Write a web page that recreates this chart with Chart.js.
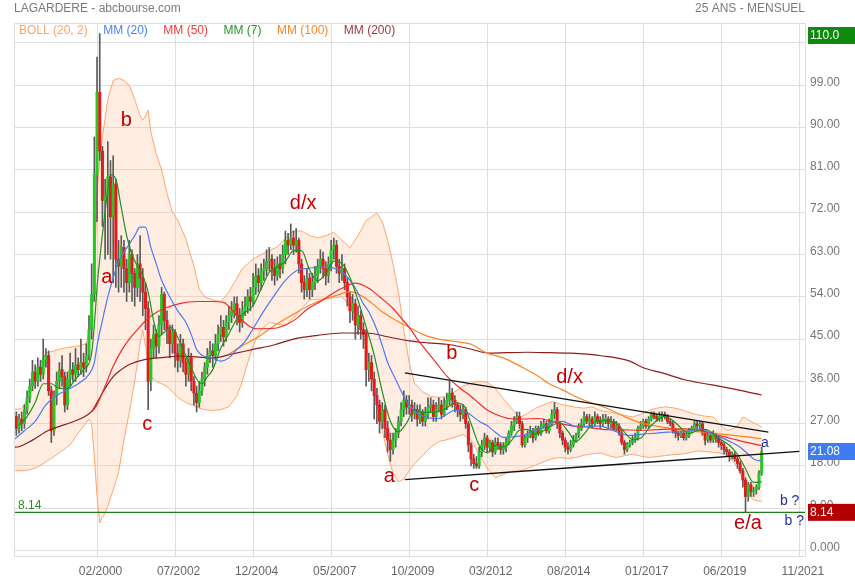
<!DOCTYPE html>
<html lang="fr">
<head>
<meta charset="UTF-8">
<title>LAGARDERE - abcbourse.com</title>
<script src="https://cdn.jsdelivr.net/npm/chart.js@4.4.1/dist/chart.umd.min.js"></script>
<style>
    body { margin: 0; background: #fff; }
</style>
</head>
<body>
<canvas id="graphique" width="855" height="580"></canvas>

<script>
    // mois comptés depuis 02/2000 (= 0), un chandelier par mois
    const premierMois = -30;
    const ouvertureInitiale = 28.5;

    const cloture = [
        26, 28, 27, 30, 32.5, 35, 38, 36, 39, 37.5,            // -30
        40.5, 41.5, 34, 25.5, 33, 36, 38.5, 37, 31, 36.5,      // -20
        38.5, 37.5, 39.5, 38.5, 40, 39, 41.5, 47, 54.5, 80,    // -10
        97.5, 85, 74.5, 75.5, 79.5, 71, 78, 62, 60.5, 64.5,    // 0
        60, 57, 63, 59, 56, 61, 58, 55, 51.5, 36,              // 10
        43, 46, 43.5, 48, 54.5, 49, 47, 44, 46.5, 42,          // 20
        40.5, 44, 40, 37.5, 41, 36, 33.5, 31.5, 34, 36.5,      // 30
        39, 41.5, 42.5, 41.5, 44, 46, 47.5, 45.5, 48.5, 50,    // 40
        51, 52.5, 50, 48.5, 51, 52, 54, 53, 56, 58.5,          // 50
        57, 59.5, 60, 61.5, 62, 60, 58.5, 61, 60, 63,          // 60
        66, 65, 66.5, 65, 66, 61, 57, 55.5, 58, 55.5,          // 70
        57, 58.5, 60.5, 62, 60, 58.5, 61, 64, 65, 60.5,        // 80
        59, 60, 57, 54, 51, 52.5, 48, 50, 47, 46,              // 90
        38.5, 40, 36.5, 33, 31, 27.5, 30, 26, 23.5, 21.5,      // 100
        23.5, 25, 27.5, 30, 32, 30.5, 31, 29, 30, 28,          // 110
        29.5, 27.5, 29, 30.5, 31, 28.5, 30, 31, 29, 31,        // 120
        32, 33.5, 32, 31, 30, 29, 30, 27, 22.5, 19.5,          // 130
        18.5, 18, 21, 22.5, 24, 22, 23, 21, 23, 22.5,          // 140
        21.5, 22, 23, 25, 26.5, 27.5, 28.5, 27, 22.5, 24,      // 150
        24.5, 25.5, 24, 26, 25, 26.5, 27, 25.5, 27, 29,        // 160
        30, 27, 25, 23.5, 22, 21.5, 22.5, 23.5, 24.5, 26,      // 170
        27, 28.5, 27.5, 28, 27, 28.5, 27.5, 27, 28, 28,        // 180
        27, 27.5, 26, 26.5, 25, 23, 21.5, 22.5, 23, 23.5,      // 190
        24, 26, 26.5, 27.5, 26.5, 28, 29, 28.5, 28, 28.5,      // 200
        29, 28.5, 27.5, 27, 25.5, 25, 24.5, 25, 24, 24.5,      // 210
        25.5, 26, 27, 26.5, 27, 25, 23.5, 24.5, 23.5, 24.5,    // 220
        24, 23, 22.5, 21.5, 21, 20, 20.5, 19.5, 18.5, 17,      // 230
        15, 11.5, 14, 12.5, 12.8, 13.5, 16.5, 21.08            // 240
    ];

    const plusHaut = [
        29.5, 29, 29.5, 31, 34, 36.5, 40.5, 39.5, 41, 40.5,
        45, 43, 42.5, 35, 34, 38, 40, 41.5, 38, 38,
        42, 40, 43, 41, 45, 42, 44, 50, 61, 88,
        105, 110, 86, 79, 87, 83, 84, 79, 66, 67,
        66, 62, 66, 64, 60, 63, 67, 60, 57, 53,
        45, 48, 47, 50, 56, 55, 51, 48, 48, 47,
        44, 46, 45, 41, 43, 42, 37, 35, 36, 38,
        40, 43, 44.5, 44, 46, 48, 50, 49, 50, 52,
        53, 54, 54, 51.5, 53, 54, 55.5, 56, 59, 61,
        60, 61, 62, 64, 64.5, 63, 62, 62.5, 63, 65,
        68, 67.5, 69.5, 68, 68.5, 66.5, 62, 58.5, 60, 59,
        59, 60.5, 62, 64, 63.5, 61.5, 62.5, 66, 66.5, 66,
        62, 63, 61, 58, 55, 54.5, 53.5, 52, 51, 48.5,
        47, 42, 41.5, 38, 34.5, 32, 31.5, 31, 27.5, 25,
        25, 26, 28.5, 31.5, 34, 33, 33, 32, 31.5, 31,
        31, 30, 30.5, 32.5, 32.5, 32, 31.5, 32.5, 32, 32.5,
        33.5, 36, 34.5, 33, 31.5, 31, 31, 30.5, 27.5, 23,
        20.5, 20, 22, 23.5, 25, 24.5, 23.5, 23.5, 24, 24,
        23, 23, 24, 25.5, 27.5, 28.5, 29.5, 29.5, 27.5, 24.5,
        25.5, 26.5, 26, 26.5, 26.5, 27.5, 28, 27.5, 28, 30,
        31.5, 30.5, 27.5, 25.5, 24, 23, 23.5, 24.5, 25, 27,
        28, 29.5, 29, 29, 28.5, 29.5, 29, 28.5, 29, 29,
        28.5, 28.5, 28, 27.5, 27, 25.5, 23.5, 23, 23.5, 24.5,
        25, 26.5, 27.5, 28, 28, 28.5, 29.5, 29.5, 29, 29.5,
        29.5, 29.5, 29, 28, 27.5, 26, 25.5, 25.5, 25.5, 25,
        26, 26.5, 27.5, 27.5, 27.5, 27.5, 25.5, 25, 25, 25.5,
        25, 24.5, 23.5, 23, 22, 21.5, 21, 21, 20, 19,
        17.5, 15.5, 14.5, 14.5, 13.5, 14, 17, 22
    ];

    const plusBas = [
        24.5, 25, 25.5, 26, 29, 31.5, 34, 34.5, 35, 36,
        36.5, 39, 33, 23, 24.5, 31, 34.5, 35, 29.5, 30,
        35, 36, 36, 37, 37.5, 37, 38, 40.5, 45, 53,
        70, 83, 69, 62, 63, 62, 57, 56, 55, 56,
        55, 53, 55, 53, 52, 54, 53, 50, 47, 30,
        34, 41, 41, 42, 46, 47, 44, 41, 42, 39,
        38, 39, 38, 35, 36, 34, 31, 29.5, 30.5, 33,
        35, 37.5, 40, 39, 40.5, 42.5, 44.5, 43.5, 44.5, 47,
        48.5, 49.5, 48, 46.5, 47.5, 50, 50.5, 51, 52, 54.5,
        55, 55.5, 57.5, 58.5, 59.5, 57.5, 56.5, 57.5, 58, 59,
        61, 63, 64, 63, 63.5, 59, 55, 53.5, 54, 53.5,
        54, 55.5, 57, 59, 58, 56.5, 57, 59.5, 62, 59,
        57, 57.5, 55.5, 52, 48.5, 49, 45, 46, 45, 43,
        35, 36, 34, 28, 27, 25, 26, 24, 21, 19,
        20.5, 22, 24, 26.5, 28.5, 29, 29, 27.5, 28, 26.5,
        27, 26.5, 26.5, 28, 29.5, 27.5, 27.5, 29.5, 28, 28.5,
        30, 31, 30.5, 29.5, 28.5, 27.5, 28, 26, 21, 18,
        17.5, 17.5, 17.5, 20, 21.5, 21, 21, 20, 20.5, 21.5,
        20.5, 20.5, 21, 22.5, 24.5, 25.5, 27, 26, 22, 22,
        23, 24, 23, 23.5, 24.5, 24.5, 26, 25, 25, 26.5,
        28, 26, 24, 22.5, 21, 20.5, 21, 22, 23, 24,
        25.5, 26.5, 27, 26.5, 26, 26.5, 27, 26, 26.5, 27,
        26, 26, 25.5, 25.5, 24.5, 22.5, 20.5, 21, 22, 22.5,
        23, 23.5, 25.5, 26, 26, 26, 27.5, 28, 27.5, 27.5,
        27.5, 28, 27, 26.5, 25, 24, 23.5, 24, 23.5, 23.5,
        24, 25, 25.5, 25.5, 26, 24.5, 22.5, 23, 23, 23,
        23, 22, 21.5, 20.5, 20, 19, 19.5, 19, 17.5, 16.5,
        13.5, 8.14, 10.5, 11.5, 11.5, 12, 13, 16
    ];

    // bandes de Bollinger (20, 2) : mois, borne haute, borne basse
    const bollMois = [
        -31, -28, -25, -22, -19, -16, -13, -10, -7, -4,
        -3, -2, -1, 0, 1, 2, 3, 4, 6, 8,
        10, 12, 14, 16, 17, 18, 19, 20, 22, 24,
        26, 28, 30, 33, 36, 38, 40, 43, 46, 49,
        52, 54, 56, 58, 61, 64, 67, 70, 73, 76,
        79, 82, 85, 88, 91, 94, 97, 100, 102, 104,
        106, 108, 110, 112, 114, 116, 118, 121, 124, 127,
        130, 133, 136, 139, 142, 145, 148, 151, 154, 157,
        160, 163, 166, 169, 172, 175, 178, 181, 184, 187,
        190, 193, 196, 199, 202, 205, 208, 211, 214, 217,
        220, 223, 226, 229, 232, 234, 236, 238, 240, 241,
        242, 244, 246, 247
    ];
    const bollHaut = [
        30, 30.2, 33, 38.5, 42, 42.5, 43, 43.3, 43.5, 44,
        46.5, 48, 58, 76, 83, 88, 92, 96, 100, 100.5,
        100, 99, 96, 92.5, 91.6, 92.5, 93.7, 89, 84.5, 81,
        76, 72, 70.3, 66.3, 60.5, 55.6, 54, 53.3, 53, 55,
        58, 60, 61, 62, 63, 63.8, 64.6, 66.5, 68, 68,
        67, 66.5, 67, 67.7, 66, 64.4, 67, 70.2, 71, 71.8,
        70, 66, 61, 55, 47, 40, 35.6, 33.8, 32.8, 32.6,
        32.8, 33.8, 35, 35.6, 36, 35.8, 34.5, 32.3, 30.3, 28.3,
        29.2, 30.3, 31, 31.7, 31.2, 30.8, 30.5, 30.3, 30.6, 29.8,
        29.5, 29.2, 28.8, 28.4, 29, 29.8, 30.3, 30.6, 30.4, 30,
        29.4, 28.9, 28.6, 28.4, 26.5, 25.6, 25.8, 26.6, 28.4, 28.2,
        27.8, 27.2, 26.6, 26.3
    ];
    const bollBas = [
        17, 17, 17.2, 17.8, 18.9, 20, 21.2, 22.5, 25, 27.2,
        28, 27, 20, 11.5, 5.9, 7, 8, 9.5, 12.9, 16.7,
        23.5, 29.5, 36, 44, 46.9, 43.5, 39.8, 37, 36, 35.5,
        34.9, 33.8, 32.6, 31.5, 30.8, 30.3, 30, 29.8, 30, 30.6,
        33, 36, 40, 43.6, 47, 48.5, 48.2, 47.9, 49.5, 51.5,
        53.3, 53.5, 53.6, 53.8, 54, 52, 49, 43.6, 38, 31.5,
        25.5, 20.5, 16.5, 14.6, 15.2, 17, 18.5, 20.2, 22, 23.2,
        23.6, 24.1, 24.7, 23.5, 20.5, 17.5, 15.5, 16.2, 16.9, 16.9,
        17.5, 18.2, 18.9, 19.5, 19.8, 19.6, 19.8, 20.3, 20.6, 20.8,
        20.2, 19.8, 20.2, 20.5, 20.1, 19.8, 20, 20.2, 20.4, 20.5,
        20.8, 21.2, 21.1, 20.9, 20.7, 20.5, 19.2, 17.8, 15, 12.6,
        11.8, 10.8, 10.5, 10.5
    ];

    // moyennes mobiles : [mois, valeur]
    const mm7 = [[-29,26.6],[-26,28.5],[-23,31.5],[-20,35.5],[-17,35.5],[-14,34.5],[-11,34.5],[-8,36.5],[-5,38.5],[-2,42],
        [-1,48],[0,56],[1,62],[3,72],[5,80],[7,79],[9,73],[11,67],[13,63],[15,60.5],[17,58.5],[19,55],[21,49],[23,45.5],
        [25,46.5],[27,47.5],[29,46.5],[31,44],[33,41.5],[35,39],[37,36.5],[39,35.5],[41,37],[43,38.5],[46,43.1],[49,46.1],
        [52,49.3],[55,50.7],[58,52.1],[61,55.7],[64,59.2],[67,60.4],[70,61.5],[73,63.8],[76,63.8],[79,59.7],[82,57.4],
        [85,58.9],[88,61.6],[91,61.1],[94,58.1],[97,53.2],[100,47.6],[103,41.6],[106,33.8],[109,27.5],[112,25.3],[115,27.1],
        [118,30],[121,29.4],[124,29.4],[127,29.6],[130,30.4],[133,31.4],[136,31.1],[139,27],[142,22.4],[145,20.8],[148,22.4],
        [151,22.1],[154,23.4],[157,25.6],[160,25.8],[163,24.8],[166,25.5],[169,26.6],[172,27.2],[175,25.4],[178,23.2],
        [181,24.8],[184,26.9],[187,27.7],[190,27.6],[193,27.1],[196,25.2],[199,23.6],[202,23.9],[205,26],[208,27.7],
        [211,28.5],[214,27.7],[217,26.1],[220,24.9],[223,25.5],[226,25.8],[229,24.9],[232,23.6],[235,22.4],[238,20.5],
        [241,17.4],[244,14.5],[247,14.6]];

    const mm20 = [[-31,23.5],[-27,25.5],[-23,27.5],[-19,31],[-15,33],[-11,34.2],[-7,35.5],[-3,37.5],[-1,40],[0,43.6],
        [2,49],[4,54],[6,58],[8,61.5],[10,63.5],[12,65.2],[14,67],[16,68.8],[18,68.8],[20,64.5],[22,61],[24,57.5],[27,54],
        [30,51],[33,48.6],[35,46],[37,42.8],[40,41.3],[43,41],[46,40.3],[49,41],[52,42.8],[55,44.5],[58,47.2],[62,51],
        [66,54.4],[70,57.5],[75,59.8],[79,60.1],[83,60.3],[88,60.1],[91,59.4],[94,57.5],[96,55.8],[99,52.5],[101,50.8],
        [104,47],[106,43.6],[108,40],[111,36.4],[114,32.8],[116,31],[119,29.2],[123,28.3],[127,28.1],[130,29],[133,29.9],
        [136,29.6],[138,29.2],[142,27.5],[145,26.6],[148,25.2],[151,24.1],[155,24.2],[158,24.5],[162,25.4],[166,26.3],
        [170,27.5],[173,27.5],[176,26.8],[179,26.2],[183,26.5],[187,26.5],[192,25.5],[198,24.5],[203,24.8],[208,25],
        [212,25.2],[218,25.3],[224,25.9],[228,25],[233,23.8],[236,23],[239,22],[242,20.5],[244,19.5],[247,19]];

    const mm50 = [[-2,29.5],[0,31],[3,35],[6,39.2],[9,42.5],[12,45],[15,47],[18,48.9],[21,50.3],[25,51.5],[31,52.6],
        [37,53],[43,53],[47,52.8],[52,50],[56,48],[59,47.2],[66,47.3],[70,48],[74,49.3],[78,51.3],[83,53],[87,54.5],
        [91,55.8],[96,56.9],[101,55.8],[105,54],[110,51.5],[113,49.5],[116,47.5],[119,45],[122,42.8],[126,40],[130,37.1],
        [135,34.5],[139,32.8],[142,31.3],[145,29.9],[149,28.8],[153,28.1],[158,28],[164,28.1],[170,27.3],[176,26.6],
        [182,26.3],[188,25.8],[195,25.7],[203,25.6],[210,25.8],[218,25.9],[225,25.4],[231,24.5],[236,23.8],[240,23.2],
        [244,22.7],[247,22.3]];

    const mm100 = [[49,41.8],[54,43.6],[60,45.5],[66,47.9],[73,50.3],[79,52.2],[85,53.6],[89,54.3],[94,55.1],[100,53.6],
        [106,50.8],[111,49],[116,47.5],[121,46],[127,45],[133,44.5],[139,43.9],[145,42],[151,41],[158,39],[164,37.1],
        [168,35.5],[173,34.2],[177,33],[181,32],[185,31.2],[189,30.4],[196,28.5],[203,27],[210,26.3],[218,25.6],[225,25.2],
        [232,24.8],[240,24.3],[247,23.8]];

    const mm200 = [[-31,22],[-29,22.1],[-24,23.5],[-18,25.6],[-12,26.8],[-6,28.1],[-2,29.6],[0,31.5],[3,34.5],[6,37],
        [9,38.5],[12,39.6],[18,40.7],[25,41.1],[31,41.4],[37,41.2],[43,41],[50,41.8],[58,42.8],[66,43.8],[73,45],[82,45.8],
        [91,46.3],[100,46.3],[108,45.5],[116,44.6],[123,44.2],[130,43.9],[138,43],[146,42],[152,42.1],[160,42.2],[168,42.1],
        [176,42],[182,41.8],[188,41.4],[193,41],[198,40.3],[203,38.9],[210,37.8],[218,36.4],[225,35.6],[232,34.9],[240,34],
        [247,33.1]];

    // lignes de tendance tracées à la main
    const tendanceHaute = [[114.4, 37.8], [249.5, 25.2]];
    const tendanceBasse = [[114.4, 15.1], [261, 21.1]];
    const plusBasHistorique = 8.14;
    const dernierCours = 21.08;
    const plusHautHistorique = 110.0;

    // annotations (vagues)
    const vagues = ['b', 'a', 'c', 'd/x', 'a', 'b', 'c', 'd/x', 'e/a'];
    const vaguesMois = [10.9, 3.6, 18.7, 76.6, 108.6, 131.8, 140.2, 175.6, 241.9];
    const vaguesVal = [90.4, 57, 25.6, 72.7, 14.6, 40.7, 12.6, 35.7, 4.7];
    const notes = ['a', 'b ?', 'b ?'];
    const notesMois = [248.2, 257.4, 259.1];
    const notesVal = [22.1, 9.6, 5.55];

    const ticksX = [0, 29, 58, 87, 116, 145, 174, 203, 232, 261];
    const ticksY = [0, 9, 18, 27, 36, 45, 54, 63, 72, 81, 90, 99, 108];

    const legende = [
        ['BOLL (20, 2)', '#ffa26a'],
        ['MM (20)', '#4d7ef2'],
        ['MM (50)', '#f03c3c'],
        ['MM (7)', '#2a932a'],
        ['MM (100)', '#ff8524'],
        ['MM (200)', '#9a3a3a']
    ];

    let formatMois = (m) => {
        let total = 2000 * 12 + 1 + m;
        let annee = Math.floor(total / 12);
        let mois = total % 12 + 1;
        return (mois < 10 ? '0' : '') + mois + '/' + annee;
    };

    let enPoints = (liste) => liste.map(p => ({x: p[0], y: p[1]}));

    const police = "Arial, 'Liberation Sans', sans-serif";
    Chart.defaults.font.family = police;
    Chart.defaults.font.size = 12;

    const ouverture = cloture.map((c, i) => i === 0 ? ouvertureInitiale : cloture[i - 1]);
    const mois = cloture.map((c, i) => premierMois + i);

    const meches = mois.map((m, i) => ({x: m, y: [plusBas[i], plusHaut[i]]}));
    const corps = mois.map((m, i) => ({x: m, y: [ouverture[i], cloture[i]]}));
    const couleursCorps = cloture.map((c, i) => c >= ouverture[i] ? '#26c826' : '#e41b1b');

    const ligne = (donnees, couleur, ordre, largeur) => ({
        type: 'line',
        data: donnees,
        borderColor: couleur,
        borderWidth: largeur || 1.2,
        pointRadius: 0,
        fill: false,
        cubicInterpolationMode: 'monotone',
        order: ordre
    });

    const habillage = {
        id: 'habillage',
        afterDatasetsDraw(chart) {
            const {ctx, chartArea: a, scales: {x, y}} = chart;
            ctx.save();
            // cadre
            ctx.strokeStyle = '#dddddd';
            ctx.lineWidth = 1;
            ctx.beginPath();
            ctx.moveTo(a.left + 0.5, a.bottom);
            ctx.lineTo(a.left + 0.5, a.top + 0.5);
            ctx.lineTo(a.right, a.top + 0.5);
            ctx.stroke();

            // vagues
            ctx.textAlign = 'center';
            ctx.textBaseline = 'alphabetic';
            ctx.fillStyle = '#c40000';
            ctx.font = '20px ' + police;
            vagues.forEach((t, i) => {
                ctx.fillText(t, x.getPixelForValue(vaguesMois[i]), y.getPixelForValue(vaguesVal[i]));
            });
            ctx.fillStyle = '#23309a';
            ctx.font = '14px ' + police;
            notes.forEach((t, i) => {
                ctx.fillText(t, x.getPixelForValue(notesMois[i]), y.getPixelForValue(notesVal[i]));
            });

            // libellé du plus bas
            ctx.textAlign = 'left';
            ctx.textBaseline = 'middle';
            ctx.font = '12px ' + police;
            ctx.fillStyle = '#2a8a2a';
            ctx.fillText('8.14', a.left + 4, y.getPixelForValue(plusBasHistorique) - 7);

            // légende
            let px = a.left + 5;
            legende.forEach(item => {
                ctx.fillStyle = item[1];
                ctx.fillText(item[0], px, a.top + 7.5);
                px += ctx.measureText(item[0]).width + 15.5;
            });
            ctx.restore();
        },
        afterDraw(chart) {
            const {ctx, chartArea: a, scales: {y}, width} = chart;
            ctx.save();
            ctx.font = '12px ' + police;
            ctx.textBaseline = 'middle';
            ctx.fillStyle = '#7a7a7a';
            ctx.textAlign = 'left';
            ctx.fillText('LAGARDERE - abcbourse.com', 14, 9);
            ctx.textAlign = 'right';
            ctx.fillText('25 ANS - MENSUEL', a.right, 9);

            // étiquettes de valeurs sur l'axe
            const boites = [
                [plusHautHistorique, '110.0', '#0f8a0f'],
                [dernierCours, dernierCours.toFixed(2), '#3f7cf2'],
                [plusBasHistorique, plusBasHistorique.toFixed(2), '#b30000']
            ];
            ctx.textAlign = 'left';
            boites.forEach(b => {
                let cy = Math.max(y.getPixelForValue(b[0]), a.top + 12.5);
                ctx.fillStyle = b[2];
                ctx.fillRect(a.right + 3, cy - 8.5, width - a.right - 3, 17);
                ctx.fillStyle = '#ffffff';
                ctx.fillText(b[1], a.right + 5, cy + 0.5);
            });
            ctx.restore();
        }
    };

    let contenu = document.querySelector('#graphique').getContext('2d');
    let graphique = new Chart(contenu, {
        type: 'bar',
        data: {
            datasets: [
                {
                    type: 'line',
                    data: bollMois.map((m, i) => ({x: m, y: bollHaut[i]})),
                    borderColor: '#ffa56c',
                    borderWidth: 1,
                    backgroundColor: 'rgba(255, 190, 150, 0.28)',
                    pointRadius: 0,
                    fill: '+1',
                    order: 20
                },
                {
                    type: 'line',
                    data: bollMois.map((m, i) => ({x: m, y: bollBas[i]})),
                    borderColor: '#ffa56c',
                    borderWidth: 1,
                    pointRadius: 0,
                    fill: false,
                    order: 19
                },
                {
                    type: 'bar',
                    data: meches,
                    backgroundColor: '#5a5a5a',
                    barThickness: 1,
                    grouped: false,
                    order: 12
                },
                {
                    type: 'bar',
                    data: corps,
                    backgroundColor: couleursCorps,
                    barThickness: 2.4,
                    minBarLength: 1.5,
                    grouped: false,
                    order: 11
                },
                ligne(enPoints(mm200), '#8e1c1c', 7),
                ligne(enPoints(mm100), '#ff8120', 6),
                ligne(enPoints(mm50), '#f02a2a', 5),
                ligne(enPoints(mm20), '#4a7cf2', 4),
                ligne(enPoints(mm7), '#21901f', 3),
                ligne(enPoints(tendanceHaute), '#111111', 2, 1.3),
                ligne(enPoints(tendanceBasse), '#111111', 2, 1.3),
                ligne([{x: -32, y: plusBasHistorique}, {x: 264, y: plusBasHistorique}], '#1d7a1d', 1, 1.3)
            ]
        },
        options: {
            responsive: false,
            animation: false,
            events: [],
            layout: { padding: { left: 14, top: 23, right: 0, bottom: 0 } },
            plugins: {
                legend: { display: false },
                tooltip: { enabled: false }
            },
            scales: {
                x: {
                    type: 'linear',
                    min: -30.86,
                    max: 263.1,
                    offset: false,
                    afterBuildTicks: (s) => { s.ticks = ticksX.map(v => ({value: v})); },
                    afterFit: (s) => { s.height = 24; },
                    grid: { color: '#dedede', drawTicks: false, offset: false },
                    border: { color: '#dedede' },
                    ticks: {
                        padding: 8,
                        labelOffset: 3.5,
                        maxRotation: 0,
                        color: '#666666',
                        callback: (v) => formatMois(v)
                    }
                },
                y: {
                    position: 'right',
                    min: -1.15,
                    max: 112.25,
                    afterBuildTicks: (s) => { s.ticks = ticksY.map(v => ({value: v})); },
                    afterFit: (s) => { s.width = 50; },
                    grid: { color: '#dedede', drawTicks: false },
                    border: { color: '#dedede' },
                    ticks: {
                        padding: 5,
                        labelOffset: -3,
                        color: '#777777',
                        callback: (v) => v === 0 ? '0.000' : (v >= 100 ? v.toFixed(1) : v.toFixed(2))
                    }
                }
            }
        },
        plugins: [habillage]
    });
</script>
</body>
</html>
